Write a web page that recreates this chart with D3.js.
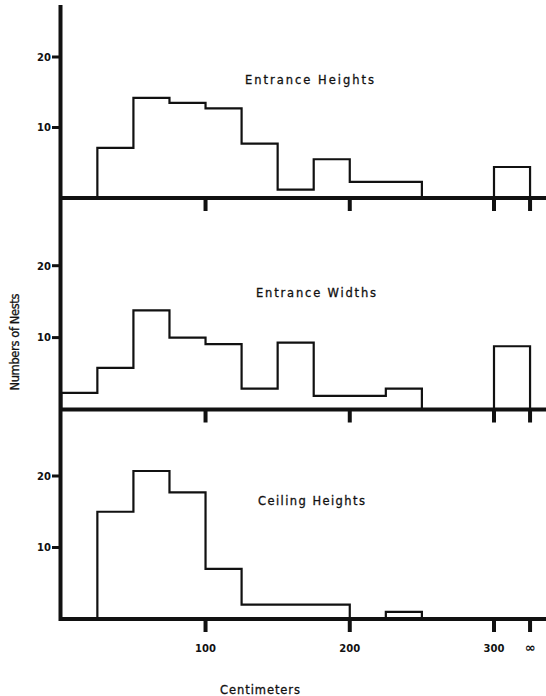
<!DOCTYPE html>
<html>
<head>
<meta charset="utf-8">
<script src="https://cdn.jsdelivr.net/npm/d3@7"></script>
<style>
	body { margin: 0; background: #fff; }
	svg { display: block; }
	text { font-family: "DejaVu Sans", sans-serif; fill: #111; }
	text.label { stroke: #111; stroke-width: 0.3px; }
</style>
</head>
<body>
<svg id="chart" width="546" height="696"></svg>
<script>
// ==================================
// data (cm bins of 25, last bin is 300 - infinity)
// ==================================
var INF = 325;
var binStarts = [0, 25, 50, 75, 100, 125, 150, 175, 200, 225, 250, 275, 300];
var binEnd = INF;

var entranceHeights = [0, 7.1, 14.2, 13.5, 12.7, 7.7, 1.2, 5.5, 2.3, 2.3, 0, 0, 4.4];
var entranceWidths  = [2.3, 5.8, 13.8, 10, 9.1, 2.9, 9.3, 1.9, 1.9, 2.9, 0, 0, 8.8];
var ceilingHeights  = [0, 15, 20.7, 17.7, 7, 2, 2, 2, 0, 1, 0, 0, 0];

var panelTitles = ["Entrance Heights", "Entrance Widths", "Ceiling Heights"];
var yTicks = [10, 20];
var xTicks = [100, 200, 300, INF];
var xTickLabels = ["100", "200", "300", "\u221E"];

// ==================================
// layout
// ==================================
var W = 546;
var AXIS_X = 60.5;
var AXIS_W = 4;

// baseline and y position of the "20" tick for each panel
var PANELS = [
	{ values: entranceHeights, base: 198,   top20: 57,    title: panelTitles[0], tx: 245, ty: 84,  tw: 129 },
	{ values: entranceWidths,  base: 409.5, top20: 265.7, title: panelTitles[1], tx: 256, ty: 297, tw: 120 },
	{ values: ceilingHeights,  base: 619,   top20: 476,   title: panelTitles[2], tx: 258, ty: 505, tw: 107 }
];

var svg = d3.select("#chart");

var x = d3.scaleLinear().domain([0, 300]).range([61.3, 494]);

function drawPanel(p)
{
	var y = d3.scaleLinear().domain([0, 20]).range([p.base, p.top20]);
	var g = svg.append("g").attr("class", "panel");

	// step outline
	var pts = [[0, 0]];
	for (var i = 0; i < binStarts.length; i++) {
		pts.push([binStarts[i], p.values[i]]);
	}
	pts.push([binEnd, p.values[p.values.length - 1]]);
	pts.push([binEnd, 0]);

	var line = d3.line()
		.x(function(d) { return x(d[0]); })
		.y(function(d) { return y(d[1]); })
		.curve(d3.curveStepAfter);

	g.append("path")
		.attr("d", line(pts))
		.attr("fill", "none")
		.attr("stroke", "#111")
		.attr("stroke-width", 2.2)
		.attr("stroke-linejoin", "miter");

	// baseline
	g.append("line")
		.attr("x1", AXIS_X).attr("x2", W)
		.attr("y1", p.base).attr("y2", p.base)
		.attr("stroke", "#111")
		.attr("stroke-width", AXIS_W);

	// x ticks under the baseline
	g.selectAll("rect.xtick").data(xTicks).enter().append("rect")
		.attr("class", "xtick")
		.attr("x", function(d) { return x(d) - 2; })
		.attr("y", p.base)
		.attr("width", 4)
		.attr("height", 13)
		.attr("fill", "#111");

	// y ticks
	g.selectAll("rect.ytick").data(yTicks).enter().append("rect")
		.attr("class", "ytick")
		.attr("x", 52)
		.attr("y", function(d) { return y(d) - 1.5; })
		.attr("width", 9)
		.attr("height", 3)
		.attr("fill", "#111");

	g.selectAll("text.ylab").data(yTicks).enter().append("text")
		.attr("class", "ylab")
		.attr("x", 51)
		.attr("y", function(d) { return y(d) + 3.8; })
		.attr("text-anchor", "end")
		.attr("font-size", "10px")
		.attr("font-weight", "bold")
		.text(function(d) { return d; });

	// title
	g.append("text")
		.attr("class", "label")
		.attr("x", p.tx)
		.attr("y", p.ty)
		.attr("font-size", "11.5px")
		.attr("textLength", p.tw)
		.attr("lengthAdjust", "spacing")
		.text(p.title);
}

PANELS.forEach(drawPanel);

// y axis over all three panels
svg.append("line")
	.attr("x1", AXIS_X).attr("x2", AXIS_X)
	.attr("y1", 5).attr("y2", 621)
	.attr("stroke", "#111")
	.attr("stroke-width", AXIS_W);

// x tick labels below the last panel
svg.selectAll("text.xlab").data(xTicks).enter().append("text")
	.attr("class", "xlab")
	.attr("x", function(d) { return x(d); })
	.attr("y", 652)
	.attr("text-anchor", "middle")
	.attr("font-size", function(d) { return d === INF ? "13px" : "10px"; })
	.attr("font-weight", "bold")
	.text(function(d, i) { return xTickLabels[i]; });

// axis titles
svg.append("text")
	.attr("class", "label")
	.attr("x", 260)
	.attr("y", 694)
	.attr("text-anchor", "middle")
	.attr("font-size", "11.5px")
	.attr("textLength", 80)
	.attr("lengthAdjust", "spacing")
	.text("Centimeters");

svg.append("text")
	.attr("class", "label")
	.attr("transform", "translate(19,342) rotate(-90)")
	.attr("text-anchor", "middle")
	.attr("font-size", "11.5px")
	.attr("textLength", 97)
	.attr("lengthAdjust", "spacing")
	.text("Numbers of Nests");
</script>
</body>
</html>
